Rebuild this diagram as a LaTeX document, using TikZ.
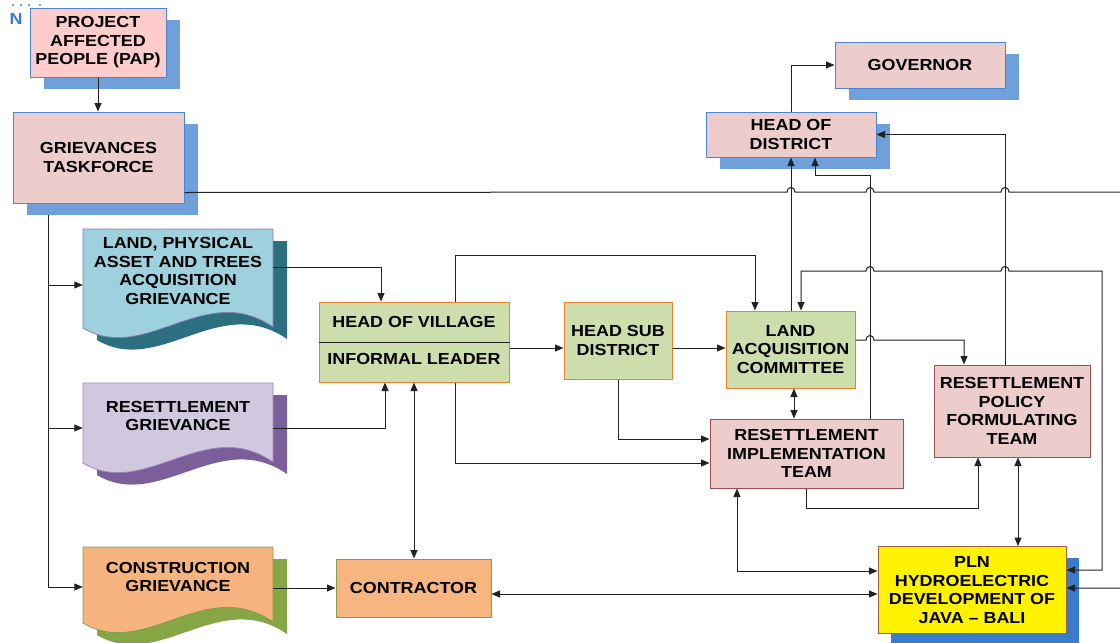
\documentclass[tikz,border=0pt]{standalone}
\usepackage{fontspec}
\newfontfamily\lbl{Liberation Sans}[FakeStretch=1.12]
\usetikzlibrary{arrows.meta,calc}

\definecolor{papfill}{HTML}{FFCCCC}
\definecolor{pinkfill}{HTML}{ECCDCC}
\definecolor{boxblue}{HTML}{4A86D6}
\definecolor{shadowblue}{HTML}{70A0DA}
\definecolor{plnshadow}{HTML}{3B7BCE}
\definecolor{greenfill}{HTML}{CDDDAC}
\definecolor{orangeline}{HTML}{E8822E}
\definecolor{darkred}{HTML}{A0504A}
\definecolor{peach}{HTML}{F7B680}
\definecolor{olive}{HTML}{7F9F50}
\definecolor{plnborder}{HTML}{A0603A}
\definecolor{landfill}{HTML}{9DD1DE}
\definecolor{landshadow}{HTML}{2B6F80}
\definecolor{landborder}{HTML}{8A7CB0}
\definecolor{resfill}{HTML}{D1C8E0}
\definecolor{resshadow}{HTML}{7A5F9B}
\definecolor{resborder}{HTML}{9A88BC}
\definecolor{confill}{HTML}{F7B47E}
\definecolor{conshadow}{HTML}{86A545}
\definecolor{conborder}{HTML}{7D9E4E}
\definecolor{linec}{HTML}{222222}
\definecolor{nblue}{HTML}{3A7BD5}

% wavy "document" outline, 190 wide, left edge height #1
\newcommand{\docshape}[1]{(0,0) -- (190,0) -- (190,#1-1) .. controls (122,#1-48) and (62,#1+37) .. (0,#1) -- cycle}
% line jumps over a vertical line at x=#1 on the level y=#2
\newcommand{\hopR}[2]{-- (#1-4,#2) .. controls (#1-4,#2-6) and (#1+4,#2-6) .. (#1+4,#2)}
\newcommand{\hopL}[2]{-- (#1+4,#2) .. controls (#1+4,#2-6) and (#1-4,#2-6) .. (#1-4,#2)}

\begin{document}
\begin{tikzpicture}[x=1pt,y=-1pt,
  txt/.style={font=\lbl\bfseries\fontsize{16}{18.5}\selectfont, text=black, align=center, inner sep=0pt},
  box/.style={txt, draw, line width=1pt},
  bluebox/.style={box, fill=pinkfill, draw=boxblue},
  greenbox/.style={box, fill=greenfill, draw=orangeline},
  redbox/.style={box, fill=pinkfill, draw=darkred},
  shadowbox/.style={inner sep=0pt, fill=shadowblue},
  link/.style={draw=linec, line width=1pt},
  arr/.style={link, -{Triangle[length=8.5pt,width=7pt]}},
  darr/.style={link, {Triangle[length=8.5pt,width=7pt]}-{Triangle[length=8.5pt,width=7pt]}}]

\useasboundingbox[fill=white] (0,0) rectangle (1120,643);

% corner mark
\node[txt, text=nblue] (nmark) at (16,18.5) {N};
\foreach \dx in {13,21,29,40} \fill[nblue!70] (\dx-1,3.5) rectangle (\dx+1,5.5);

% helper levels
\coordinate (spine) at (48,0);
\coordinate (yland) at (0,285);
\coordinate (yres) at (0,428);
\coordinate (ycon) at (0,587);
\coordinate (y267) at (0,267);
\coordinate (y348) at (0,348);
\coordinate (y439) at (0,439);
\coordinate (y463) at (0,463);
\coordinate (y340) at (0,340);
\coordinate (y571) at (0,571);
\coordinate (y570) at (0,570);
\coordinate (y588) at (0,588);
\coordinate (y594) at (0,594);

% shadows
\node[shadowbox, minimum width=136, minimum height=69] (papsh) at (112,54.5) {};
\node[shadowbox, minimum width=171, minimum height=91] (tfsh) at (112.5,169.5) {};
\node[shadowbox, minimum width=170, minimum height=45] (hodsh) at (805,146.5) {};
\node[shadowbox, minimum width=170, minimum height=46] (govsh) at (934,77) {};
\node[shadowbox, fill=plnshadow, minimum width=188, minimum height=87] (plnsh) at (985,601) {};

% grievance documents
\fill[landshadow, shift={(97,241)}] \docshape{99};
\draw[landborder, fill=landfill, line width=0.8pt, shift={(83,229)}] \docshape{99};
\fill[resshadow, shift={(97,395)}] \docshape{80};
\draw[resborder, fill=resfill, line width=0.8pt, shift={(83,383)}] \docshape{80};
\fill[conshadow, shift={(97,559)}] \docshape{76};
\draw[conborder, fill=confill, line width=0.8pt, shift={(83,547)}] \docshape{76};

\node[txt, minimum width=190] (land) at (178,271) {LAND, PHYSICAL\\ASSET AND TREES\\ACQUISITION\\GRIEVANCE};
\node[txt, minimum width=190] (res) at (178,416) {RESETTLEMENT\\GRIEVANCE};
\node[txt, minimum width=190] (con) at (178,577) {CONSTRUCTION\\GRIEVANCE};

% boxes
\node[bluebox, fill=papfill, minimum width=136, minimum height=69] (pap) at (98,42.5) {PROJECT\\AFFECTED\\PEOPLE (PAP)};
\node[bluebox, minimum width=171, minimum height=91] (tf) at (98.5,157.5) {GRIEVANCES\\TASKFORCE};
\node[bluebox, minimum width=170, minimum height=45] (hod) at (791,134.5) {HEAD OF\\DISTRICT};
\node[bluebox, minimum width=170, minimum height=46] (gov) at (920,65) {GOVERNOR};

\node[greenbox, minimum width=190, minimum height=80] (hov) at (414,342) {};
\draw[linec, line width=1pt] (hov.west) -- (hov.east);
\node[txt] (hovtop) at (414,322) {HEAD OF VILLAGE};
\node[txt] (hovbot) at (414,359) {INFORMAL LEADER};

\node[greenbox, minimum width=108, minimum height=77] (hsd) at (618,340.5) {HEAD SUB\\DISTRICT};
\node[greenbox, minimum width=129, minimum height=77] (lac) at (790.5,349.5) {LAND\\ACQUISITION\\COMMITTEE};
\node[redbox, minimum width=193, minimum height=69] (rit) at (806.5,453.5) {RESETTLEMENT\\IMPLEMENTATION\\TEAM};
\node[redbox, minimum width=156, minimum height=92] (rpft) at (1012,411) {RESETTLEMENT\\POLICY\\FORMULATING\\TEAM};
\node[box, fill=peach, draw=olive, minimum width=155, minimum height=58] (cntr) at (413.5,588) {CONTRACTOR};
\node[box, fill=yellow, draw=plnborder, minimum width=188, minimum height=87] (pln) at (972,590) {PLN\\HYDROELECTRIC\\DEVELOPMENT OF\\JAVA – BALI};

% connectors
\draw[arr] (pap.south) -- (pap.south |- tf.north);
\draw[link] (tfsh.south -| spine) -- (spine |- ycon);
\draw[arr] (spine |- yland) -- (land.west |- yland);
\draw[arr] (spine |- yres) -- (res.west |- yres);
\draw[arr] (spine |- ycon) -- (con.west |- ycon);

\draw[arr] ($(tf.south east)+(0,-11)$) \hopR{791}{192} \hopR{870}{192} \hopR{1005}{192} -- (1135,192) |- (pln.east |- y588);

\draw[arr] (land.east |- y267) -| ($(hov.north)+(-33,0)$);
\draw[arr] (res.east |- yres) -| ($(hov.south)+(-29,0)$);
\draw[darr] (hov.south) -- (hov.south |- cntr.north);
\draw[arr] (con.east |- cntr.west) -- (cntr.west);
\draw[darr] (cntr.east |- y594) -- (pln.west |- y594);

\draw[arr] (hov.east |- y348) -- (hsd.west |- y348);
\draw[arr] (hsd.east |- y348) -- (lac.west |- y348);
\draw[arr] (hsd.south) |- (rit.west |- y439);
\draw[arr] ($(hov.south)+(41,0)$) |- (rit.west |- y463);
\draw[arr] ($(hov.north)+(41,0)$) -- ++(0,-46) -| ($(lac.north)+(-35.5,0)$);

\draw[darr] ($(lac.south)+(3.5,0)$) -- ($(rit.north)+(-12.5,0)$);
\draw[arr] (lac.east |- y340) \hopR{870}{340} -| ($(rpft.north)+(-48,0)$);
\draw[arr] (lac.north -| hod.south) -- (hod.south);
\draw[arr] ($(rit.north)+(63.5,0)$) |- (815,175) -- ($(hod.south)+(24,0)$);
\draw[arr] ($(rpft.north)+(-7,0)$) |- (hod.east);
\draw[arr] (hod.north) |- (gov.west);

\draw[arr] (rit.south) |- (978,508) -- ($(rpft.south)+(-34,0)$);
\draw[darr] ($(rit.south)+(-69.5,0)$) |- (pln.west |- y571);
\draw[darr] ($(rpft.south)+(6,0)$) -- ($(pln.north)+(46,0)$);
\draw[darr] (pln.east |- y570) -| (1102,271) \hopL{1005}{271} \hopL{870}{271} -| ($(lac.north)+(10.5,0)$);

\end{tikzpicture}
\end{document}
